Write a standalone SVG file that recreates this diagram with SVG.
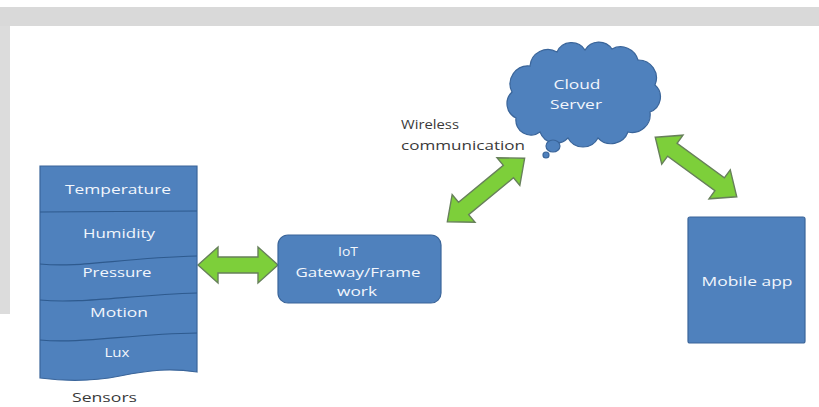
<svg xmlns="http://www.w3.org/2000/svg" width="819" height="407" viewBox="0 0 819 407">
  <style>
    .box { fill: #4f81bd; stroke: #3a659a; stroke-width: 1.2; }
    .div { fill: none; stroke: #2e5a8e; stroke-width: 1.2; }
    .lbl { font-family: "Open Sans", "Liberation Sans", sans-serif; font-size: 12.5px; fill: #f2f6fc; text-anchor: middle; }
    .cap { font-family: "Open Sans", "Liberation Sans", sans-serif; font-size: 13px; fill: #3a3a3a; }
    .arrow { fill: #7dcf3a; stroke: #67805a; stroke-width: 1.4; stroke-linejoin: miter; }
  </style>
  <defs>
    <!-- double-headed block arrow, 100 long, centred on the origin -->
    <path id="dbl" d="M-50,0 L-29,-18 L-29,-8 L29,-8 L29,-18 L50,0 L29,18 L29,8 L-29,8 L-29,18 Z"/>
  </defs>

  <!-- page background -->
  <rect x="0" y="0" width="819" height="407" fill="#ffffff"/>
  <rect x="0" y="7" width="819" height="19" fill="#d9d9d9"/>
  <rect x="0" y="26" width="10" height="288" fill="#dcdcdc"/>

  <!-- connectors -->
  <g id="connectors">
    <path class="arrow" d="M198,265 L218,247 L218,257 L258,257 L258,247 L278,265 L258,283 L258,273 L218,273 L218,283 Z"/>
    <use href="#dbl" class="arrow" transform="translate(486,190) rotate(-39.4)"/>
    <use href="#dbl" class="arrow" transform="translate(696,167) rotate(36.2) scale(1.01,1)"/>
  </g>

  <!-- sensor stack -->
  <g id="sensors">
    <path class="box" d="M40,166 L197,166 L197,372 C170,368 150,370 120,376 C95,381 70,382 40,378 Z"/>
    <path class="div" d="M40,212 L197,211"/>
    <path class="div" d="M40,264 C80,268 120,258 197,256"/>
    <path class="div" d="M40,300 C80,304 130,295 197,293"/>
    <path class="div" d="M40,340 C80,344 130,334 197,333"/>
    <text class="lbl" x="118" y="194" textLength="106" lengthAdjust="spacingAndGlyphs">Temperature</text>
    <text class="lbl" x="119" y="238" textLength="72" lengthAdjust="spacingAndGlyphs">Humidity</text>
    <text class="lbl" x="117" y="277" textLength="69" lengthAdjust="spacingAndGlyphs">Pressure</text>
    <text class="lbl" x="119" y="317" textLength="58" lengthAdjust="spacingAndGlyphs">Motion</text>
    <text class="lbl" x="117" y="357" textLength="25" lengthAdjust="spacingAndGlyphs">Lux</text>
    <text class="cap" x="72" y="402" textLength="65" lengthAdjust="spacingAndGlyphs">Sensors</text>
  </g>

  <!-- gateway -->
  <g id="gateway">
    <rect class="box" x="278" y="235" width="163" height="68" rx="10" ry="10"/>
    <text class="lbl" x="348" y="256" textLength="20" lengthAdjust="spacingAndGlyphs">IoT</text>
    <text class="lbl" x="358" y="277" textLength="125" lengthAdjust="spacingAndGlyphs">Gateway/Frame</text>
    <text class="lbl" x="357" y="296" textLength="40" lengthAdjust="spacingAndGlyphs">work</text>
  </g>

  <!-- wireless caption -->
  <g id="wireless">
    <text class="cap" x="401" y="129" textLength="58" lengthAdjust="spacingAndGlyphs">Wireless</text>
    <text class="cap" x="401" y="150" textLength="124" lengthAdjust="spacingAndGlyphs">communication</text>
  </g>

  <!-- cloud server -->
  <g id="cloud">
    <path class="box" d="M516,118 A16,16 0 0 1 512,92 A18,18 0 0 1 530,66 A18,18 0 0 1 557,52 A16,16 0 0 1 585,50 A16,16 0 0 1 612,49 A18,18 0 0 1 638,60 A18,18 0 0 1 655,85 A16,16 0 0 1 650,112 A18,18 0 0 1 628,132 A18,18 0 0 1 598,138 A17,17 0 0 1 568,138 A17,17 0 0 1 540,132 A15,15 0 0 1 516,118 Z"/>
    <ellipse class="box" cx="553" cy="146" rx="7" ry="6"/>
    <circle class="box" cx="546" cy="155" r="3"/>
    <text class="lbl" x="577" y="89" textLength="47" lengthAdjust="spacingAndGlyphs">Cloud</text>
    <text class="lbl" x="576" y="109" textLength="52" lengthAdjust="spacingAndGlyphs">Server</text>
  </g>

  <!-- mobile app -->
  <g id="mobile">
    <rect class="box" x="688" y="217" width="117" height="126" rx="2" ry="2"/>
    <text class="lbl" x="747" y="286" textLength="91" lengthAdjust="spacingAndGlyphs">Mobile app</text>
  </g>
</svg>
